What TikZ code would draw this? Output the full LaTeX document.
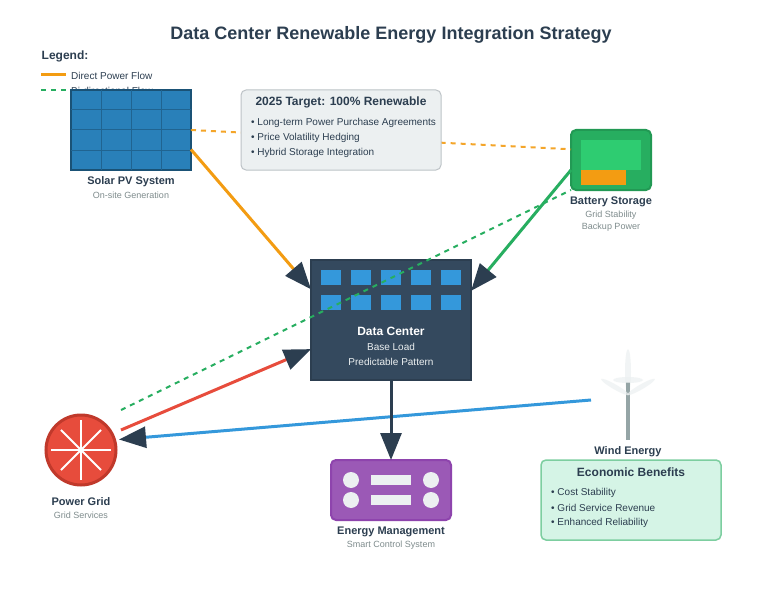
\documentclass[tikz,border=0pt]{standalone}
\usepackage{fontspec}
\setmainfont{Liberation Sans}
\usetikzlibrary{arrows.meta}
\definecolor{ink}{HTML}{2C3E50}
\definecolor{subgray}{HTML}{7F8C8D}
\definecolor{solarblue}{HTML}{2980B9}
\definecolor{solarline}{HTML}{1A5276}
\definecolor{sunorange}{HTML}{F39C12}
\definecolor{battgreen}{HTML}{27AE60}
\definecolor{battline}{HTML}{229954}
\definecolor{cellgreen}{HTML}{2ECC71}
\definecolor{slate}{HTML}{34495E}
\definecolor{winblue}{HTML}{3498DB}
\definecolor{gridred}{HTML}{E74C3C}
\definecolor{gridline}{HTML}{C0392B}
\definecolor{purp}{HTML}{9B59B6}
\definecolor{purpline}{HTML}{8E44AD}
\definecolor{pale}{HTML}{ECF0F1}
\definecolor{paleline}{HTML}{BDC3C7}
\definecolor{mint}{HTML}{D5F4E6}
\definecolor{mintline}{HTML}{7DCEA0}
\definecolor{tower}{HTML}{95A5A6}
\tikzset{
	x=1pt, y=-1pt,
	box/.style={draw, line width=2pt, inner sep=0pt, outer sep=0pt, minimum width=#1},
	win/.style={fill=winblue, minimum width=20pt, minimum height=15pt, inner sep=0pt},
	bar/.style={fill=pale, minimum width=40pt, minimum height=10pt, inner sep=0pt},
	dot/.style={circle, fill=pale, minimum size=16pt, inner sep=0pt},
	title/.style={font=\bfseries\fontsize{11}{13}\selectfont, text=ink},
	sub/.style={font=\fontsize{9}{11}\selectfont, text=subgray},
	line/.style={font=\fontsize{10}{12}\selectfont, text=ink, anchor=west, inner sep=0pt},
	flow/.style={line width=3pt, -{Triangle[length=27pt,width=21pt,color=ink]}},
	dashflow/.style={line width=2pt, dash pattern=on 5pt off 5pt},
	blade/.style={pale, opacity=.7},
}
\begin{document}
\begin{tikzpicture}
	\useasboundingbox (0,0) rectangle (780,594);
	\fill[white] (0,0) rectangle (780,594);

	\node[font=\bfseries\fontsize{18}{20}\selectfont, text=ink] (heading) at (391,34.5) {Data Center Renewable Energy Integration Strategy};

	% legend
	\node[anchor=west, inner sep=0pt, font=\bfseries\fontsize{12}{14}\selectfont, text=ink] (legend) at (41.5,56.5) {Legend:};
	\coordinate (k1a) at (41,75);
	\coordinate (k1b) at (66,75);
	\coordinate (k2a) at (41,90);
	\coordinate (k2b) at (66,90);
	\draw[sunorange, line width=3pt] (k1a) -- (k1b);
	\draw[battgreen, dashflow] (k2a) -- (k2b);
	\node[line] (direct) at (71,76) {Direct Power Flow};
	\node[line] (bidir) at (71,91) {Bi-directional Flow};

	% solar
	\node[box=120pt, draw=solarline, fill=solarblue, minimum height=80pt] (solar) at (131,130) {};
	\foreach \px in {101,131,161}
		\draw[solarline!60!solarblue, line width=1pt] (\px,90) -- (\px,170);
	\foreach \py in {110,130,150}
		\draw[solarline!60!solarblue, line width=1pt] (71,\py) -- (191,\py);
	\node[title] (solarname) at (131,182) {Solar PV System};
	\node[sub] (solarsub) at (131,195.5) {On-site Generation};

	% battery
	\node[box=80pt, draw=battline, fill=battgreen, minimum height=60pt, rounded corners=5pt] (batt) at (611,160) {};
	\node[fill=cellgreen, minimum width=60pt, minimum height=30pt, inner sep=0pt] (cell) at (611,155) {};
	\node[fill=sunorange, minimum width=45pt, minimum height=15pt, inner sep=0pt] (charge) at (603.5,177.5) {};
	\node[title] (battname) at (611,202) {Battery Storage};
	\node[sub] (battsub1) at (611,215.5) {Grid Stability};
	\node[sub] (battsub2) at (611,227.5) {Backup Power};

	% target box, dashed line passes behind it
	\draw[sunorange, dashflow, opacity=.9] (solar.east) -- (batt.165.96);
	\node[box=200pt, draw=paleline, line width=1pt, fill=pale, minimum height=80pt, rounded corners=5pt] (target) at (341,130) {};
	\node[font=\bfseries\fontsize{12}{14}\selectfont, text=ink] (targetname) at (341,102) {2025 Target: 100\% Renewable};
	\node[line] (t1) at (251,122.5) {• Long-term Power Purchase Agreements};
	\node[line] (t2) at (251,137.5) {• Price Volatility Hedging};
	\node[line] (t3) at (251,152.5) {• Hybrid Storage Integration};

	% data center
	\node[box=160pt, draw=ink, fill=slate, minimum height=120pt] (dc) at (391,320) {};
	\foreach \px in {331,361,391,421,451}{
		\node[win] (wa\px) at (\px,277.5) {};
		\node[win] (wb\px) at (\px,302.5) {};
	}
	\node[font=\bfseries\fontsize{12}{14}\selectfont, text=white] (dcname) at (391,331) {Data Center};
	\node[font=\fontsize{10}{12}\selectfont, text=pale] (dcsub1) at (391,347) {Base Load};
	\node[font=\fontsize{10}{12}\selectfont, text=pale] (dcsub2) at (391,362) {Predictable Pattern};

	% power grid
	\node[circle, draw=gridline, line width=3pt, fill=gridred, minimum size=70pt, inner sep=0pt] (grid) at (81,450) {};
	\foreach \ang/\rad in {0/30,45/28.3,90/30,135/28.3}
		\draw[white, line width=2pt] (grid.center) ++(\ang:\rad) -- ++(\ang+180:2*\rad);
	\node[title] (gridname) at (81,502) {Power Grid};
	\node[sub] (gridsub) at (81,515) {Grid Services};
	\coordinate (gridred) at (121,430);
	\coordinate (gridblue) at (119,439.5);
	\coordinate (griddash) at (121,410);

	% wind
	\fill[blade] (628,372) ellipse (3pt and 23pt);
	\node[fill=tower, minimum width=4.5pt, minimum height=58pt, inner sep=0pt] (mast) at (628,411) {};
	\fill[blade] (628,380) ellipse (15pt and 3pt);
	\fill[blade, rotate around={-30:(615,387)}] (615,387) ellipse (16pt and 2.5pt);
	\fill[blade, rotate around={30:(641,387)}] (641,387) ellipse (16pt and 2.5pt);
	\coordinate (windout) at (591,400);
	\node[title] (windname) at (628,452) {Wind Energy};

	% energy management
	\node[box=120pt, draw=purpline, fill=purp, minimum height=60pt, rounded corners=5pt] (ems) at (391,490) {};
	\node[dot] (d1) at (351,480) {};
	\node[dot] (d2) at (351,500) {};
	\node[dot] (d3) at (431,480) {};
	\node[dot] (d4) at (431,500) {};
	\node[bar] (b1) at (391,480) {};
	\node[bar] (b2) at (391,500) {};
	\node[title] (emsname) at (391,532) {Energy Management};
	\node[sub] (emssub) at (391,545) {Smart Control System};

	% economic benefits
	\node[box=180pt, draw=mintline, line width=1.5pt, fill=mint, minimum height=80pt, rounded corners=5pt] (econ) at (631,500) {};
	\node[font=\bfseries\fontsize{12}{14}\selectfont, text=ink] (econname) at (631,472) {Economic Benefits};
	\node[line] (e1) at (551,492.5) {• Cost Stability};
	\node[line] (e2) at (551,507.5) {• Grid Service Revenue};
	\node[line] (e3) at (551,522.5) {• Enhanced Reliability};

	% flows
	\draw[flow, sunorange] (solar.-18.43) -- (dc.159.44);
	\draw[flow, battgreen] (batt.194.04) -- (dc.20.56);
	\draw[flow, gridred] (gridred) -- (dc.200.56);
	\draw[flow, winblue] (windout) -- (gridblue);
	\draw[flow, ink] (dc.south) -- (ems.north);
	\draw[battgreen, dashflow] (griddash) -- (batt.south west);
\end{tikzpicture}
\end{document}
